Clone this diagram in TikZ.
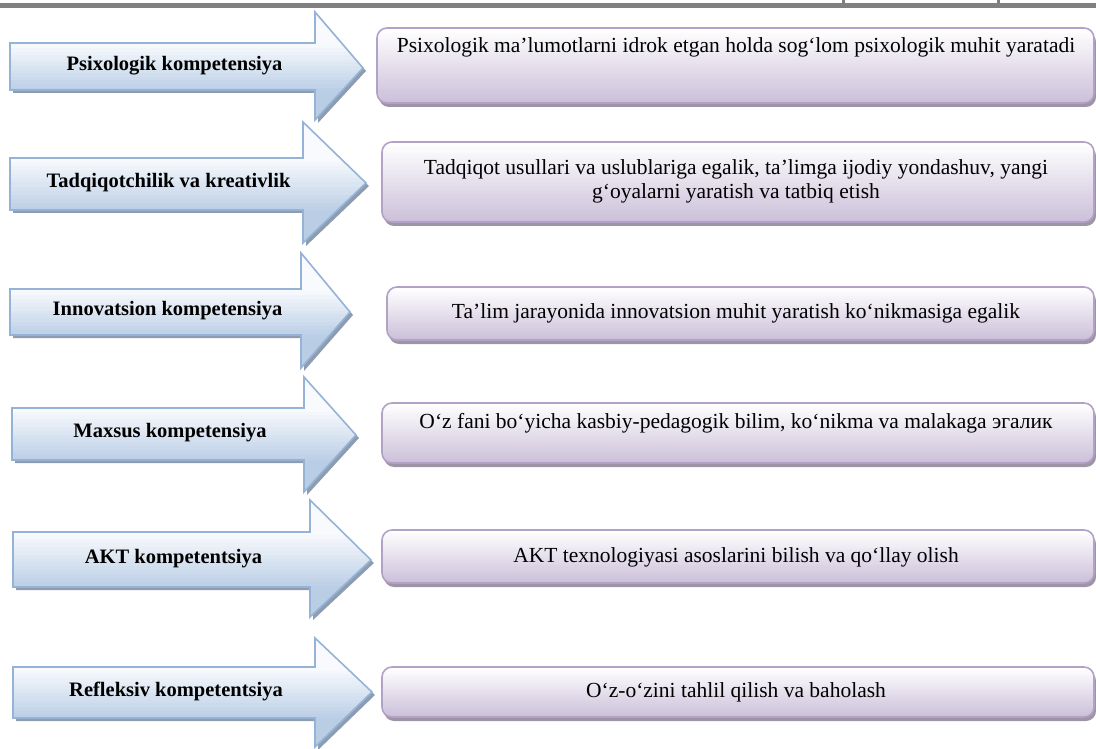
\documentclass[tikz,border=0pt]{standalone}
\usepackage{fontspec}
\setmainfont{Liberation Serif}

\definecolor{arrowline}{HTML}{95B3D7}
\definecolor{arrowtop}{HTML}{F8FAFD}
\definecolor{arrowbot}{HTML}{B9CDE5}
\definecolor{arrowshadow}{HTML}{8E9CB0}
\definecolor{boxline}{HTML}{B3A2C7}
\definecolor{boxtop}{HTML}{FFFFFF}
\definecolor{boxbot}{HTML}{CCC1DA}
\definecolor{boxshadow}{HTML}{9D95A6}

\tikzset{
  arrowedge/.style={line width=1.6pt, draw=arrowline, line join=miter},
  boxedge/.style={line width=1.6pt, draw=boxline, rounded corners=10pt},
  arrowtext/.style={font=\fontsize{20.5}{24}\selectfont\bfseries, inner sep=0pt},
  boxtext/.style={font=\fontsize{21.5}{24}\selectfont, align=center, inner sep=0pt}
}

\begin{document}
\begin{tikzpicture}[x=1pt, y=1pt]
\useasboundingbox (0, 0) rectangle (1096, -749);
%Header line
\fill[gray] (0, -3) rectangle (1096, -8.5);
\fill[gray] (842, 0) rectangle (844.5, -3);
\fill[gray] (997, 0) rectangle (999.5, -3);
%Arrows: left/body top/body bottom/head x/head top/head bottom/tip x/tip y
\foreach \n/\l/\bt/\bb/\hx/\ht/\hb/\tx/\ty/\lab in {
  1/10/43/90/315/12/120/363/68/{Psixologik kompetensiya},
  2/10/158/210/303/122/243/366/183/{Tadqiqotchilik va kreativlik},
  3/10/289/335/301/253/368/350/312/{Innovatsion kompetensiya},
  4/12/408/460/304/377/492/356/435/{Maxsus kompetensiya},
  5/13/532/587/310/500/617/371/560/{AKT kompetentsiya},
  6/13/667/718/315/638/747/372/692/{Refleksiv kompetentsiya}}
{
  \fill[arrowshadow, shift={(3, -3)}] (\l, -\bt) -- (\hx, -\bt) -- (\hx, -\ht) -- (\tx, -\ty) -- (\hx, -\hb) -- (\hx, -\bb) -- (\l, -\bb) -- cycle;
  \begin{scope}
    \clip (\l, -\bt) -- (\hx, -\bt) -- (\hx, -\ht) -- (\tx, -\ty) -- (\hx, -\hb) -- (\hx, -\bb) -- (\l, -\bb) -- cycle;
    \foreach \i in {0,...,29} {
      \pgfmathsetmacro\ya{\ht+(\hb-\ht)*\i/30}
      \pgfmathsetmacro\pc{max(0, min(100, 100*(\ya-\bt)/(\bb-\bt)))}
      \fill[arrowbot!\pc!arrowtop] (\l, -\ya) rectangle (\tx, {-\ya-(\hb-\ht)/30-0.6});
    }
  \end{scope}
  \draw[arrowedge] (\l, -\bt) -- (\hx, -\bt) -- (\hx, -\ht) -- (\tx, -\ty) -- (\hx, -\hb) -- (\hx, -\bb) -- (\l, -\bb) -- cycle;
  \node[arrowtext] (k\n) at ({(\l+\hx)/2+12}, {-(\bt+\bb)/2-6}) {\lab};
}
%Boxes: left/top/bottom/text y
\foreach \n/\bx/\bt/\bb/\ty/\txt in {
  1/377/28/103/47/{Psixologik ma’lumotlarni idrok etgan holda sog‘lom psixologik muhit yaratadi},
  2/382/142/222/181/{Tadqiqot usullari va uslublariga egalik, ta’limga ijodiy yondashuv, yangi\\ g‘oyalarni yaratish va tatbiq etish},
  3/387/287/340/313/{Ta’lim jarayonida innovatsion muhit yaratish ko‘nikmasiga egalik},
  4/382/403/463/423/{O‘z fani bo‘yicha kasbiy-pedagogik bilim, ko‘nikma va malakaga эгалик},
  5/382/530/583/557/{AKT texnologiyasi asoslarini bilish va qo‘llay olish},
  6/382/667/717/692/{O‘z-o‘zini tahlil qilish va baholash}}
{
  \fill[boxshadow, rounded corners=10pt] (\bx+2, -\bt-4) rectangle (1096, -\bb-4);
  \begin{scope}
    \clip[rounded corners=10pt] (\bx, -\bt) rectangle (1094, -\bb);
    \foreach \i in {0,...,29} {
      \pgfmathsetmacro\ya{\bt+(\bb-\bt)*\i/30}
      \pgfmathsetmacro\pc{100*\i/29}
      \fill[boxbot!\pc!boxtop] (\bx, -\ya) rectangle (1094, {-\ya-(\bb-\bt)/30-0.6});
    }
  \end{scope}
  \draw[boxedge] (\bx, -\bt) rectangle (1094, -\bb);
  \node[boxtext] (d\n) at (736, -\ty) {\txt};
}
\end{tikzpicture}
\end{document}
